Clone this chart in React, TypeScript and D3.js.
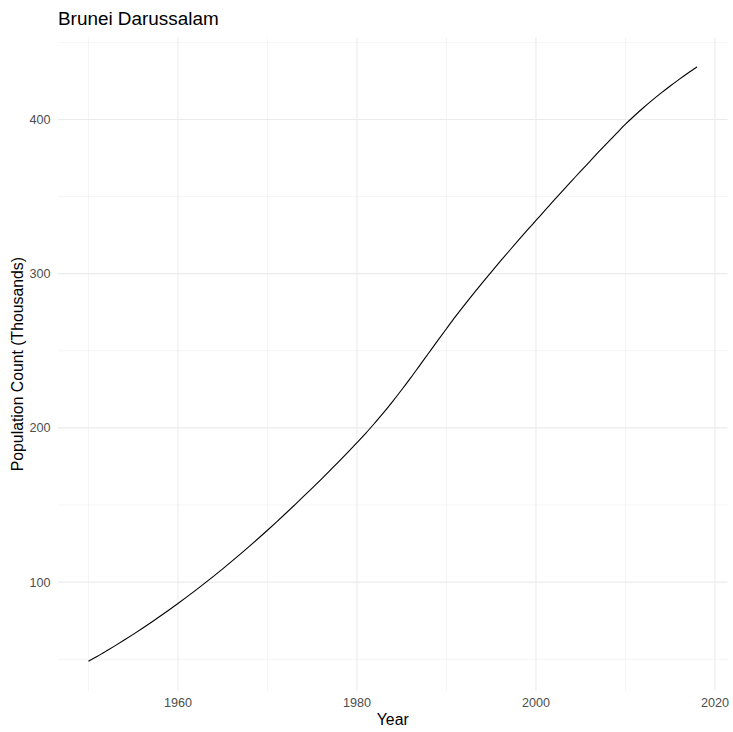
import React from "react";
import * as d3 from "d3";

const years: number[] = [
  1950, 1951, 1952, 1953, 1954, 1955, 1956, 1957, 1958, 1959,
  1960, 1961, 1962, 1963, 1964, 1965, 1966, 1967, 1968, 1969,
  1970, 1971, 1972, 1973, 1974, 1975, 1976, 1977, 1978, 1979,
  1980, 1981, 1982, 1983, 1984, 1985, 1986, 1987, 1988, 1989,
  1990, 1991, 1992, 1993, 1994, 1995, 1996, 1997, 1998, 1999,
  2000, 2001, 2002, 2003, 2004, 2005, 2006, 2007, 2008, 2009,
  2010, 2011, 2012, 2013, 2014, 2015, 2016, 2017, 2018,
];

const population: number[] = [
  48.7, 51.9, 55.3, 58.8, 62.4, 66.1, 69.9, 73.8, 77.8, 81.9,
  86.1, 90.4, 94.8, 99.3, 103.9, 108.6, 113.4, 118.3, 123.3, 128.4,
  133.6, 138.9, 144.3, 149.8, 155.35, 160.95, 166.65, 172.45, 178.3, 184.3,
  190.4, 196.6, 203.2, 210.0, 217.2, 224.7, 232.4, 240.4, 248.4, 256.4,
  264.3, 272.1, 279.6, 286.9, 294.0, 301.0, 307.9, 314.7, 321.4, 328.0,
  334.5, 341.0, 347.5, 353.9, 360.2, 366.5, 372.7, 378.9, 385.0, 391.0,
  396.9, 402.4, 407.6, 412.5, 417.2, 421.7, 426.0, 430.1, 434.0,
];

const xTicks: number[] = [1960, 1980, 2000, 2020];
const xMinor: number[] = [1950, 1970, 1990, 2010];
const yTicks: number[] = [100, 200, 300, 400];
const yMinor: number[] = [50, 150, 250, 350, 450];

const title = "Brunei Darussalam";
const xTitle = "Year";
const yTitle = "Population Count (Thousands)";

export default function App() {
  const W = 733;
  const H = 732;
  const panel = { left: 58, right: 727.5, top: 37.3, bottom: 690.9 };

  const data = years.map((y, i) => ({ year: y, value: population[i] }));
  const xMinV = d3.min(years)!;
  const xMaxV = d3.max(years)!;
  const yMinV = d3.min(population)!;
  const yMaxV = d3.max(population)!;
  const xPad = (xMaxV - xMinV) * 0.05;
  const yPad = (yMaxV - yMinV) * 0.05;

  const x = d3
    .scaleLinear()
    .domain([xMinV - xPad, xMaxV + xPad])
    .range([panel.left, panel.right]);
  const y = d3
    .scaleLinear()
    .domain([yMinV - yPad, yMaxV + yPad])
    .range([panel.bottom, panel.top]);

  const line = d3
    .line<{ year: number; value: number }>()
    .x((d) => x(d.year))
    .y((d) => y(d.value))
    .curve(d3.curveMonotoneX);

  const font = "'Liberation Sans', Arial, Helvetica, sans-serif";
  const grid = "#ebebeb";

  return (
    <svg
      width={W}
      height={H}
      style={{ position: "absolute", left: 0, top: 0, background: "#fff" }}
      fontFamily={font}
    >
      <rect x={0} y={0} width={W} height={H} fill="#fff" />
      {yMinor.map((v) => (
        <line key={"ym" + v} x1={panel.left} x2={panel.right} y1={y(v)} y2={y(v)} stroke={grid} strokeWidth={0.55} />
      ))}
      {xMinor.map((v) => (
        <line key={"xm" + v} x1={x(v)} x2={x(v)} y1={panel.top} y2={panel.bottom} stroke={grid} strokeWidth={0.55} />
      ))}
      {yTicks.map((v) => (
        <line key={"y" + v} x1={panel.left} x2={panel.right} y1={y(v)} y2={y(v)} stroke={grid} strokeWidth={1.1} />
      ))}
      {xTicks.map((v) => (
        <line key={"x" + v} x1={x(v)} x2={x(v)} y1={panel.top} y2={panel.bottom} stroke={grid} strokeWidth={1.1} />
      ))}
      <path d={line(data) || ""} fill="none" stroke="#000" strokeWidth={1.1} />
      {yTicks.map((v) => (
        <text key={"yl" + v} x={50.5} y={y(v)} dy="0.36em" textAnchor="end" fontSize={12.6} fill="#4d4d4d">
          {v}
        </text>
      ))}
      {xTicks.map((v) => (
        <text key={"xl" + v} x={x(v)} y={707} textAnchor="middle" fontSize={12.6} fill="#4d4d4d">
          {v}
        </text>
      ))}
      <text x={(panel.left + panel.right) / 2} y={724.5} textAnchor="middle" fontSize={15.8} fill="#000">
        {xTitle}
      </text>
      <text
        transform={`translate(22.5, ${(panel.top + panel.bottom) / 2}) rotate(-90)`}
        textAnchor="middle"
        fontSize={15.8}
        fill="#000"
      >
        {yTitle}
      </text>
      <text x={58} y={25} fontSize={18.9} fill="#000">
        {title}
      </text>
    </svg>
  );
}
